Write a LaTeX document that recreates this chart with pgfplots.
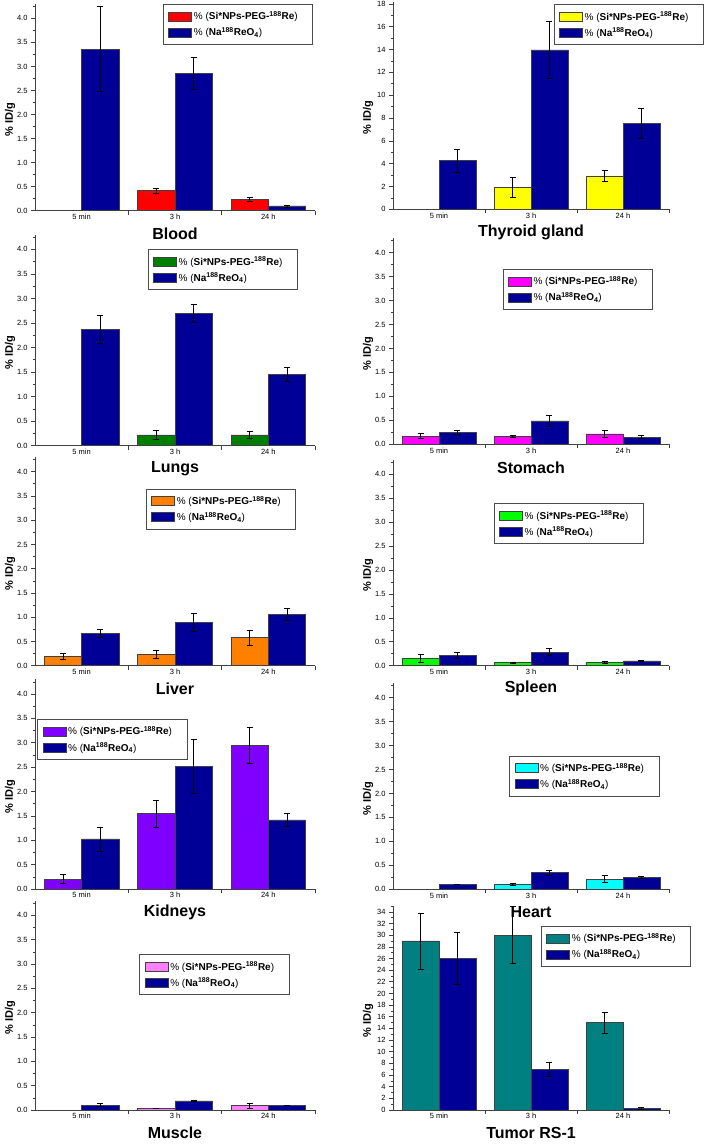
\documentclass[border=0pt]{standalone}
\usepackage{pgfplots}
\pgfplotsset{compat=1.18}
\usepackage{fontspec}
\setmainfont{Liberation Sans}
\definecolor{navyb}{RGB}{0,0,150}
\definecolor{cRed}{RGB}{255,0,0}
\definecolor{cYel}{RGB}{255,255,0}
\definecolor{cDGreen}{RGB}{0,128,0}
\definecolor{cMag}{RGB}{255,0,255}
\definecolor{cOra}{RGB}{255,128,0}
\definecolor{cLime}{RGB}{0,255,0}
\definecolor{cPur}{RGB}{128,0,255}
\definecolor{cCyan}{RGB}{0,255,255}
\definecolor{cPink}{RGB}{255,128,255}
\definecolor{cTeal}{RGB}{0,128,128}
\pgfplotsset{
  organ/.style={
    scale only axis, ymin=0, xmin=-0.5, xmax=2.5,
    axis lines*=left, axis line style={black!75, line width=0.7pt, -},
    xtick={0.5,1.5,2.5}, xticklabels={},
    extra x ticks={0,1,2}, extra x tick labels={5 min,3 h,24 h},
    extra x tick style={major tick length=0pt},
    tick align=outside, tick style={black!75, line width=0.6pt},
    major tick length=4pt, minor tick length=2pt,
    minor y tick num=1,
    /pgf/number format/assume math mode=true,
    tick label style={font=\fontsize{7.5}{9}\selectfont},
    ylabel={\textbf{\% ID/g}},
    every axis y label/.style={at={(axis description cs:0,0.44)}, rotate=90, anchor=center, yshift=25pt, font=\fontsize{11}{13}\selectfont},
    title style={at={(axis description cs:0.5,0)}, anchor=center, yshift=-29pt, font=\fontsize{16}{18}\selectfont\bfseries},
    legend style={anchor=north west, draw=black!70, line width=0.9pt, inner xsep=5pt, inner ysep=5pt,
      font=\fontsize{10}{12}\selectfont, row sep=2pt, cells={anchor=west}},
    legend image code/.code={\draw[##1, line width=0.5pt] (0pt,-4.5pt) rectangle (23pt,4.5pt);},
  },
  orgL/.style={organ, width=280pt},
  orgR/.style={organ, width=276pt},
  small/.style={ymax=4.3, ytick distance=0.5,
    yticklabel style={/pgf/number format/.cd, fixed, fixed zerofill, precision=1}},
  errs/.style={error bars/y dir=both, error bars/y explicit,
    error bars/error bar style={black, line width=0.6pt},
    error bars/error mark options={rotate=90, black, line width=0.6pt, mark size=3pt}},
  barS/.style={ybar, bar width=0.4, bar shift=0, draw=black!75, line width=0.5pt, errs},
  barN/.style={ybar, bar width=0.4, bar shift=0, fill=navyb, draw=black!75, line width=0.5pt, errs},
}
\newcommand{\legS}{\makebox[112pt][l]{\% (\textbf{Si*NPs-PEG-\textsuperscript{188}Re})}}
\newcommand{\legN}{\% (\textbf{Na\textsuperscript{188}ReO\textsubscript{4}})}
\begin{document}
\begin{tikzpicture}
\useasboundingbox (0,0) rectangle (705pt,-1145pt);
% Bars: first series at category-0.2, second at category+0.2 (categories 0,1,2 = 5 min, 3 h, 24 h)
% ---------------- Blood
\begin{axis}[orgL, small, at={(35pt,-210.7pt)}, anchor=south west, height=206.8pt,
  title={Blood}, legend style={at={(axis description cs:0.457,1.0)}}]
\addplot[barS, fill=cRed] coordinates {(0.8,0.42) +- (0,0.05) (1.8,0.24) +- (0,0.04)};
\addplot[barN] coordinates {(0.2,3.36) +- (0,0.88) (1.2,2.86) +- (0,0.34) (2.2,0.10) +- (0,0.02)};
\legend{\legS,\legN}
\end{axis}
% ---------------- Thyroid
\begin{axis}[orgR, at={(393pt,-209.3pt)}, anchor=south west, height=207.7pt, ymax=18.2,
  ytick distance=2, title={Thyroid gland}, legend style={at={(axis description cs:0.582,0.988)}}]
\addplot[barS, fill=cYel] coordinates {(0.8,1.93) +- (0,0.9) (1.8,2.92) +- (0,0.5)};
\addplot[barN] coordinates {(0.2,4.26) +- (0,1.0) (1.2,13.96) +- (0,2.5) (2.2,7.54) +- (0,1.3)};
\legend{\legS,\legN}
\end{axis}
% ---------------- Lungs
\begin{axis}[orgL, small, at={(35pt,-445.7pt)}, anchor=south west, height=211.1pt,
  title={Lungs}, legend style={at={(axis description cs:0.4025,0.93)}}]
\addplot[barS, fill=cDGreen] coordinates {(0.8,0.22) +- (0,0.085) (1.8,0.22) +- (0,0.065)};
\addplot[barN] coordinates {(0.2,2.37) +- (0,0.28) (1.2,2.70) +- (0,0.18) (2.2,1.45) +- (0,0.14)};
\legend{\legS,\legN}
\end{axis}
% ---------------- Stomach
\begin{axis}[orgR, small, at={(393pt,-444.3pt)}, anchor=south west, height=206pt,
  title={Stomach}, legend style={at={(axis description cs:0.397,0.852)}}]
\addplot[barS, fill=cMag] coordinates {(-0.2,0.17) +- (0,0.05) (0.8,0.16) +- (0,0.02) (1.8,0.22) +- (0,0.065)};
\addplot[barN] coordinates {(0.2,0.25) +- (0,0.05) (1.2,0.49) +- (0,0.11) (2.2,0.15) +- (0,0.03)};
\legend{\legS,\legN}
\end{axis}
% ---------------- Liver
\begin{axis}[orgL, small, at={(35pt,-665.7pt)}, anchor=south west, height=208.6pt,
  title={Liver}, legend style={at={(axis description cs:0.396,0.8485)}}]
\addplot[barS, fill=cOra] coordinates {(-0.2,0.19) +- (0,0.06) (0.8,0.235) +- (0,0.08) (1.8,0.58) +- (0,0.16)};
\addplot[barN] coordinates {(0.2,0.67) +- (0,0.09) (1.2,0.90) +- (0,0.19) (2.2,1.06) +- (0,0.13)};
\legend{\legS,\legN}
\end{axis}
% ---------------- Spleen
\begin{axis}[orgR, small, at={(393pt,-665.7pt)}, anchor=south west, height=205.8pt,
  title={Spleen}, legend style={at={(axis description cs:0.365,0.789)}}]
\addplot[barS, fill=cLime] coordinates {(-0.2,0.155) +- (0,0.085) (0.8,0.07) +- (0,0.01) (1.8,0.075) +- (0,0.02)};
\addplot[barN] coordinates {(0.2,0.22) +- (0,0.06) (1.2,0.285) +- (0,0.07) (2.2,0.10) +- (0,0.015)};
\legend{\legS,\legN}
\end{axis}
% ---------------- Kidneys
\begin{axis}[orgL, small, at={(35pt,-889pt)}, anchor=south west, height=209.6pt,
  title={Kidneys}, legend style={at={(axis description cs:0.008,0.811)}}]
\addplot[barS, fill=cPur] coordinates {(-0.2,0.205) +- (0,0.09) (0.8,1.545) +- (0,0.27) (1.8,2.95) +- (0,0.37)};
\addplot[barN] coordinates {(0.2,1.026) +- (0,0.25) (1.2,2.52) +- (0,0.56) (2.2,1.42) +- (0,0.13)};
\legend{\legS,\legN}
\end{axis}
% ---------------- Heart
\begin{axis}[orgR, small, at={(393pt,-889.3pt)}, anchor=south west, height=206pt,
  title={Heart}, legend style={at={(axis description cs:0.421,0.6486)}}]
\addplot[barS, fill=cCyan] coordinates {(0.8,0.104) +- (0,0.03) (1.8,0.215) +- (0,0.075)};
\addplot[barN] coordinates {(0.2,0.10) +- (0,0.0) (1.2,0.347) +- (0,0.05) (2.2,0.25) +- (0,0.02)};
\legend{\legS,\legN}
\end{axis}
% ---------------- Muscle
\begin{axis}[orgL, small, at={(35pt,-1110pt)}, anchor=south west, height=209.3pt,
  title={Muscle}, legend style={at={(axis description cs:0.3725,0.744)}}]
\addplot[barS, fill=cPink] coordinates {(0.8,0.035) +- (0,0.01) (1.8,0.09) +- (0,0.045)};
\addplot[barN] coordinates {(0.2,0.10) +- (0,0.03) (1.2,0.19) +- (0,0.015) (2.2,0.10) +- (0,0.0)};
\legend{\legS,\legN}
\end{axis}
% ---------------- Tumor RS-1
\begin{axis}[orgR, at={(393pt,-1110pt)}, anchor=south west, height=204pt, ymax=35,
  ytick distance=2, title={Tumor RS-1}, legend style={at={(axis description cs:0.536,0.903)}}]
\addplot[barS, fill=cTeal] coordinates {(-0.2,29.0) +- (0,4.8) (0.8,30.0) +- (0,4.9) (1.8,15.0) +- (0,1.8)};
\addplot[barN] coordinates {(0.2,26.0) +- (0,4.5) (1.2,7.0) +- (0,1.15) (2.2,0.3) +- (0,0.1)};
\legend{\legS,\legN}
\end{axis}
\end{tikzpicture}
\end{document}
